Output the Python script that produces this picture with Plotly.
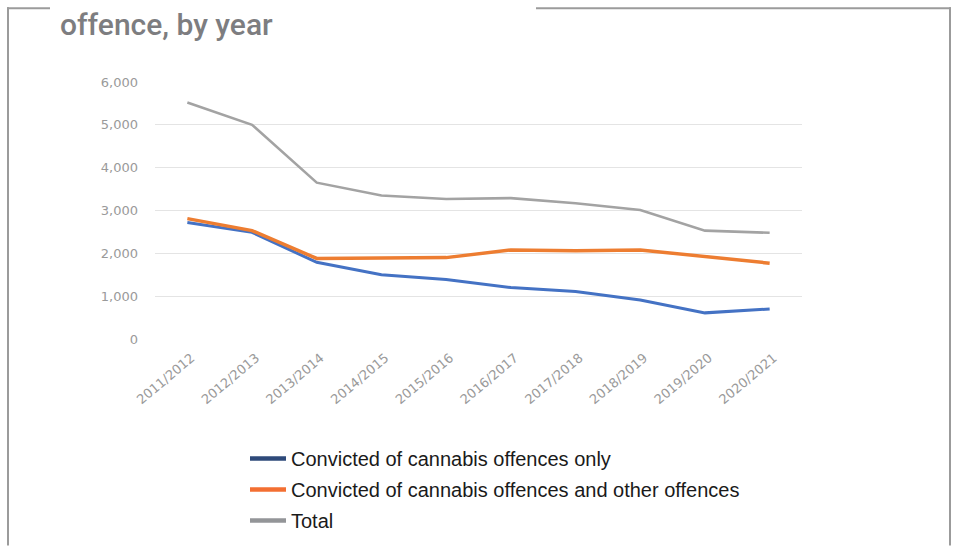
import plotly.graph_objects as go

years = ["2011/2012", "2012/2013", "2013/2014", "2014/2015", "2015/2016",
         "2016/2017", "2017/2018", "2018/2019", "2019/2020", "2020/2021"]
cannabis_only = [2720, 2490, 1790, 1500, 1390, 1200, 1110, 910, 610, 700]
cannabis_and_other = [2810, 2530, 1880, 1880, 1900, 2080, 2060, 2080, 1930, 1770]
total = [5520, 5000, 3650, 3350, 3270, 3290, 3170, 3010, 2530, 2480]

series_names = ["Convicted of cannabis offences only",
                "Convicted of cannabis offences and other offences",
                "Total"]
line_colors = ["#4472c4", "#ed7d31", "#a3a3a3"]
legend_colors = ["#2e4a7a", "#f36f32", "#939598"]
line_widths = [3, 3.5, 2.6]

W, H = 957, 552
L, R, T, B = 155, 802, 82, 347  # plot area in window pixels

fig = go.Figure()
for vals, name, col, lw in zip([cannabis_only, cannabis_and_other, total],
                               series_names, line_colors, line_widths):
    fig.add_trace(go.Scatter(x=years, y=vals, mode="lines", name=name,
                             line=dict(color=col, width=lw), showlegend=False))
for i, (name, col) in enumerate(zip(series_names, legend_colors)):
    fig.add_trace(go.Scatter(x=[None], y=[None], mode="lines", name=name,
                             legendgroup=f"g{i}",
                             line=dict(color=col, width=4.5), showlegend=True))

def px(x):  # window pixel -> paper
    return (x - L) / (R - L)

def py(y):
    return (B - y) / (B - T)

frame = dict(color="#9b9b9b", width=2)
shapes = [
    dict(type="line", xref="paper", yref="paper", x0=px(7), x1=px(50), y0=py(6), y1=py(6), line=frame),
    dict(type="line", xref="paper", yref="paper", x0=px(536), x1=px(951), y0=py(6), y1=py(6), line=frame),
    dict(type="line", xref="paper", yref="paper", x0=px(8), x1=px(8), y0=py(5), y1=py(560), line=frame),
    dict(type="line", xref="paper", yref="paper", x0=px(950), x1=px(950), y0=py(5), y1=py(560), line=frame),
]

fig.update_layout(
    width=W, height=H,
    margin=dict(l=L, r=W - R, t=T, b=H - B),
    paper_bgcolor="white", plot_bgcolor="white",
    shapes=shapes,
    annotations=[dict(text="offence, by year", xref="paper", yref="paper",
                      x=px(58), y=py(3), xanchor="left", yanchor="top",
                      showarrow=False,
                      font=dict(family="Roboto, sans-serif", weight=500,
                                size=30, color="#7d7d80"))],
    xaxis=dict(type="category", range=[-0.5, 9.5], showgrid=False, showline=False,
               zeroline=False, ticks="", tickangle=-40, ticklabelshift=4,
               ticklabelstandoff=8,
               tickfont=dict(family="DejaVu Sans, sans-serif", size=13, color="#9a9a9a")),
    yaxis=dict(range=[0, 6000], tickvals=[0, 1000, 2000, 3000, 4000, 5000, 6000],
               tickformat=",d", showgrid=True, gridcolor="#e4e4e4", gridwidth=1.3,
               zeroline=False, showline=False, ticks="", ticklabelstandoff=16,
               tickfont=dict(family="DejaVu Sans, sans-serif", size=13, color="#9a9a9a")),
    legend=dict(x=px(245), y=py(450), xanchor="left", yanchor="top",
                orientation="v", tracegroupgap=2, itemwidth=36,
                font=dict(family="Liberation Sans, Arial, sans-serif", size=20, color="#1a1a1a"),
                bgcolor="rgba(0,0,0,0)"),
)

fig.write_html("out.html", config={"displayModeBar": False},
               post_script="document.body.style.margin='0px';")
